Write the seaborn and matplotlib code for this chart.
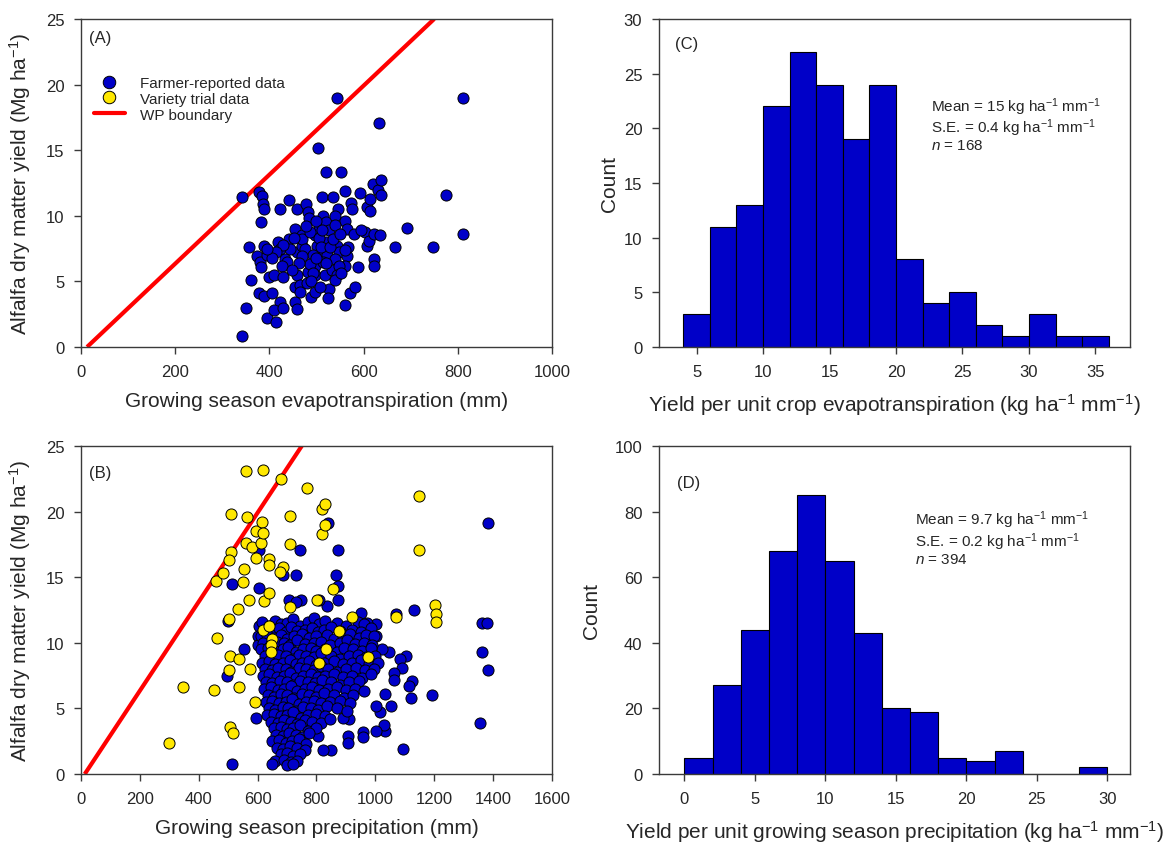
import numpy as np
import pandas as pd
import matplotlib
matplotlib.use("Agg")
import matplotlib.pyplot as plt
from matplotlib.lines import Line2D
import seaborn as sns

# ---------------- data ----------------
# Panel A: farmer-reported data, ET (mm) vs yield (Mg/ha)
A_et = [341, 341, 351, 362, 357, 379, 385, 383, 386, 389, 373, 380, 383, 389, 395, 377, 389, 405,
        395, 415, 399, 410, 422, 442, 418, 422, 434, 438, 426, 430, 442, 422, 410, 430, 454, 458,
        458, 478, 481, 485, 454, 458, 469, 469, 458, 454, 466, 466, 481, 479, 488, 497, 501, 505,
        496, 497, 497, 503, 520, 513, 511, 520, 527, 520, 516, 523, 513, 518, 527, 525, 532, 536,
        553, 544, 546, 540, 560, 560, 564, 544, 548, 540, 564, 560, 548, 544, 540, 567, 574, 575,
        572, 582, 561, 579, 588, 593, 603, 595, 607, 613, 614, 607, 611, 621, 631, 638, 638, 623,
        634, 623, 623, 632, 667, 692, 748, 774, 811, 811,
        470, 476, 487, 492, 505, 510, 486, 493, 470, 462, 528, 535, 540, 550, 478, 500, 488, 507,
        448, 444, 452, 430, 415, 405, 395, 560, 553, 520, 498, 512]
A_yield = [0.8, 11.4, 3.0, 5.1, 7.6, 11.8, 11.5, 9.5, 10.9, 10.5, 6.9, 6.5, 6.1, 7.7, 7.0, 4.1, 3.9, 4.1,
           2.2, 1.9, 5.3, 5.5, 10.5, 11.2, 8.0, 7.5, 6.7, 6.5, 6.2, 5.3, 8.2, 3.4, 2.8, 3.0, 3.4, 2.9,
           10.5, 10.9, 10.3, 9.8, 9.0, 7.2, 8.5, 7.7, 5.5, 4.6, 4.7, 4.2, 5.7, 4.9, 3.8, 8.5, 7.7, 9.0,
           6.2, 5.5, 4.2, 15.2, 13.3, 10.0, 11.4, 9.5, 8.9, 8.0, 7.2, 7.0, 6.5, 5.5, 4.4, 3.7, 5.9, 11.4,
           13.3, 19.0, 10.5, 10.0, 11.9, 9.6, 9.0, 7.7, 7.2, 6.7, 6.9, 6.2, 6.2, 5.5, 5.1, 7.6, 11.0, 10.5,
           4.1, 4.6, 3.2, 8.6, 6.1, 11.7, 8.8, 8.9, 10.7, 10.4, 11.3, 7.7, 8.1, 12.4, 12.0, 12.7, 11.6, 8.6,
           8.5, 6.7, 6.2, 17.1, 7.6, 9.1, 7.6, 11.6, 19.0, 8.6,
           8.2, 7.5, 8.8, 7.0, 8.3, 7.6, 6.3, 5.6, 6.9, 6.4, 7.6, 8.2, 9.3, 8.6, 9.2, 9.6, 5.0, 4.6,
           5.9, 7.5, 8.3, 7.8, 7.2, 6.8, 7.5, 7.4, 5.6, 6.4, 6.8, 8.9]

# Panel B: variety trial data, precipitation (mm) vs yield (Mg/ha)
B_trial_precip = [298, 345, 453, 461, 459, 484, 509, 511, 502, 502, 505, 503, 506, 515, 535, 537, 537,
                  553, 550, 562, 563, 562, 581, 572, 575, 591, 596, 593, 613, 616, 619, 619, 621, 619,
                  638, 640, 638, 639, 648, 646, 644, 678, 685, 676, 709, 711, 711, 767, 801, 810, 818,
                  830, 820, 828, 833, 855, 877, 920, 974, 1070, 1147, 1147, 1204, 1206, 1206]
B_trial_yield = [2.4, 6.6, 6.4, 10.4, 14.7, 15.3, 16.9, 19.8, 16.3, 11.8, 9.0, 7.9, 3.6, 3.1, 12.6, 8.8, 6.6,
                 15.6, 14.6, 23.1, 19.6, 17.6, 17.3, 13.3, 8.0, 5.5, 16.5, 18.5, 17.6, 19.2, 18.4, 23.2, 13.2, 11.0,
                 13.8, 11.3, 16.4, 15.9, 10.3, 9.8, 9.3, 22.5, 15.8, 15.4, 19.7, 17.5, 12.7, 21.8, 13.3, 8.5, 20.2,
                 20.6, 18.3, 19.0, 9.5, 14.1, 10.9, 12.0, 8.9, 12.0, 21.2, 17.1, 12.9, 12.2, 11.6]

# Panel B: farmer-reported data, precipitation (mm) vs yield (Mg/ha)
B_farm_precip = [
    513, 512, 501, 553, 496, 594, 604, 606, 604, 603, 601, 688, 732, 745, 747, 707, 732, 839, 873, 868,
    873, 873, 836, 808, 1132, 1071, 1384, 1362, 1380, 1362, 1384, 1357, 1194, 1093, 1120, 1125, 1116,
    1053, 1034, 1028, 1003, 1015, 1003, 959, 957, 906, 906, 849, 823, 804, 909, 889, 1103, 1084, 1090,
    1065, 1065, 1034, 1046, 1021, 1003, 1003, 952, 971, 944,
    615, 640, 660, 680, 700, 720, 745, 770, 790, 810, 830, 870, 900, 940, 960,
    625, 650, 672, 695, 715, 735, 760, 785, 805, 825, 850, 880, 920, 950, 985,
    610, 632, 655, 680, 700, 725, 750, 775, 800, 835, 860, 890, 915, 945, 970, 995,
    620, 645, 665, 690, 710, 735, 760, 790, 815, 845, 880, 905, 930, 960, 990,
    612, 635, 660, 685, 705, 730, 755, 780, 800, 830, 870, 895, 925, 955, 985,
    625, 650, 670, 695, 720, 740, 765, 790, 815, 850, 880, 910, 940, 970, 1000,
    615, 640, 660, 685, 710, 730, 750, 775, 800, 825, 860, 890, 920, 950, 980, 1010,
    625, 648, 670, 695, 715, 740, 765, 790, 815, 840, 870, 900, 935, 965, 995,
    620, 640, 665, 690, 710, 730, 755, 780, 805, 830, 860, 890, 920, 955, 985,
    630, 650, 675, 700, 720, 745, 770, 795, 820, 850, 880, 910, 945,
    622, 645, 668, 690, 712, 735, 760, 785, 810, 840, 870, 900, 930, 960,
    635, 655, 680, 700, 725, 750, 775, 800, 825, 860, 895, 925,
    628, 650, 672, 695, 718, 740, 765, 790, 815, 845, 880, 915,
    640, 660, 685, 705, 730, 755, 780, 805, 835, 870, 905,
    632, 655, 678, 700, 722, 748, 772, 800, 830,
    645, 668, 690, 712, 735, 760, 785, 815, 845,
    655, 680, 700, 722, 745, 770, 800,
    662, 685, 708, 730, 752, 775,
    650, 672, 695, 718, 740, 765,
    665, 688, 710, 735, 760,
    680, 700, 722, 745,
    660, 690, 712, 735,
    650, 700, 720]
B_farm_yield = [
    0.8, 14.5, 11.7, 9.5, 7.5, 4.3, 14.2, 17.1, 11.3, 10.5, 9.8, 15.2, 15.2, 17.1, 13.3, 13.3, 13.1, 19.1, 17.1, 15.2,
    14.3, 13.3, 12.8, 13.3, 12.5, 12.2, 19.1, 11.5, 11.5, 9.3, 7.9, 3.9, 6.0, 1.9, 5.8, 7.1, 6.7,
    5.2, 3.3, 3.7, 3.3, 4.7, 5.2, 3.2, 2.8, 2.9, 2.4, 1.8, 1.8, 2.9, 4.2, 4.3, 9.0, 8.8, 8.1,
    7.7, 7.2, 6.1, 9.3, 9.5, 10.5, 11.4, 12.3, 11.5, 11.0,
    11.6, 11.3, 11.7, 11.4, 11.5, 11.8, 11.3, 11.6, 11.9, 11.4, 11.7, 11.5, 11.3, 11.6, 11.4,
    11.0, 10.9, 11.1, 10.8, 11.2, 10.9, 11.0, 11.1, 10.8, 11.0, 11.2, 10.9, 11.0, 10.8, 11.1,
    10.5, 10.6, 10.4, 10.6, 10.3, 10.5, 10.7, 10.4, 10.5, 10.6, 10.3, 10.5, 10.7, 10.4, 10.6, 10.5,
    10.0, 9.9, 10.1, 10.0, 9.8, 10.2, 9.9, 10.0, 10.1, 9.8, 10.0, 10.2, 9.9, 10.0, 9.8,
    9.5, 9.6, 9.4, 9.5, 9.7, 9.3, 9.5, 9.6, 9.4, 9.5, 9.3, 9.6, 9.5, 9.4, 9.6,
    9.0, 8.9, 9.1, 9.0, 8.8, 9.1, 9.0, 8.9, 9.2, 9.0, 8.8, 9.0, 9.1, 8.9, 9.0,
    8.5, 8.6, 8.4, 8.5, 8.7, 8.4, 8.5, 8.6, 8.3, 8.5, 8.6, 8.4, 8.5, 8.7, 8.4, 8.5,
    8.0, 7.9, 8.1, 8.0, 7.8, 8.1, 8.0, 7.9, 8.2, 8.0, 7.8, 8.0, 8.1, 7.9, 8.0,
    7.5, 7.6, 7.4, 7.5, 7.7, 7.3, 7.5, 7.6, 7.4, 7.5, 7.6, 7.4, 7.5, 7.3, 7.6,
    7.0, 6.9, 7.1, 7.0, 6.8, 7.1, 7.0, 6.9, 7.2, 7.0, 6.8, 7.0, 7.1,
    6.5, 6.6, 6.4, 6.5, 6.7, 6.3, 6.5, 6.6, 6.4, 6.5, 6.6, 6.4, 6.5, 6.3,
    6.0, 5.9, 6.1, 6.0, 5.8, 6.1, 6.0, 5.9, 6.2, 6.0, 5.8, 6.0,
    5.5, 5.6, 5.4, 5.5, 5.7, 5.3, 5.5, 5.6, 5.4, 5.5, 5.6, 5.4,
    5.0, 4.9, 5.1, 5.0, 4.8, 5.1, 5.0, 4.9, 5.2, 5.0, 4.8,
    4.5, 4.6, 4.4, 4.5, 4.7, 4.3, 4.5, 4.6, 4.4,
    4.0, 3.9, 4.1, 4.0, 3.8, 4.1, 4.0, 3.9, 4.2,
    3.5, 3.6, 3.4, 3.5, 3.7, 3.3, 3.5,
    3.0, 2.9, 3.1, 3.0, 2.8, 3.1,
    2.5, 2.6, 2.4, 2.5, 2.7, 2.3,
    2.0, 1.9, 2.1, 2.0, 1.8,
    1.5, 1.6, 1.4, 1.5,
    1.0, 1.1, 0.9, 1.0,
    0.8, 0.7, 0.8]

# WP boundary line (mm, Mg/ha)
wp_x = [13, 750]
wp_y = [0, 25]

# Panel C histogram: WP based on ET (kg/ha/mm)
C_edges = [4, 6, 8, 10, 12, 14, 16, 18, 20, 22, 24, 26, 28, 30, 32, 34, 36]
C_counts = [3, 11, 13, 22, 27, 24, 19, 24, 8, 4, 5, 2, 1, 3, 1, 1]

# Panel D histogram: WP based on precipitation (kg/ha/mm)
D_edges = [0, 2, 4, 6, 8, 10, 12, 14, 16, 18, 20, 22, 24, 26, 28, 30]
D_counts = [5, 27, 44, 68, 85, 65, 43, 20, 19, 5, 4, 7, 0, 0, 2]

C_stats = ["Mean = 15 kg ha$^{-1}$ mm$^{-1}$", "S.E. = 0.4 kg ha$^{-1}$ mm$^{-1}$", "$\\mathit{n}$ = 168"]
D_stats = ["Mean = 9.7 kg ha$^{-1}$ mm$^{-1}$", "S.E. = 0.2 kg ha$^{-1}$ mm$^{-1}$", "$\\mathit{n}$ = 394"]

# ---------------- style ----------------
BLUE = "#0000C8"
YELLOW = "#FFE800"
RED = "#FF0000"
SPINE = "#3a3a3a"

sns.set_style("ticks")
plt.rcParams["font.family"] = ["Liberation Sans", "DejaVu Sans"]
plt.rcParams["mathtext.fontset"] = "custom"
plt.rcParams["mathtext.rm"] = "Liberation Sans"
plt.rcParams["mathtext.it"] = "Liberation Sans:italic"
plt.rcParams["mathtext.default"] = "regular"
plt.rcParams["axes.edgecolor"] = SPINE
plt.rcParams["axes.linewidth"] = 1.0

TICK_FS = 12
LABEL_FS = 15
TEXT_FS = 11

fig = plt.figure(figsize=(11.63, 8.45), dpi=100)
W = 0.405
H = 0.3882
axA = fig.add_axes([0.0696, 0.5882, W, H])
axB = fig.add_axes([0.0696, 0.0828, W, H])
axC = fig.add_axes([0.5666, 0.5882, W, H])
axD = fig.add_axes([0.5666, 0.0828, W, H])

for ax in (axA, axB, axC, axD):
    ax.tick_params(axis="both", direction="out", length=5, width=1, color=SPINE,
                   labelsize=TICK_FS, pad=7, top=False, right=False)
    for sp in ax.spines.values():
        sp.set_visible(True)
        sp.set_color(SPINE)

pt_kw = dict(s=64, edgecolor="black", linewidth=0.7, legend=False)

# ---- Panel A ----
axA.plot(wp_x, wp_y, color=RED, lw=3, zorder=2, solid_capstyle="butt")
sns.scatterplot(x=A_et, y=A_yield, color=BLUE, ax=axA, zorder=3, **pt_kw)
axA.set_xlim(0, 1000)
axA.set_ylim(0, 25)
axA.set_xticks([0, 200, 400, 600, 800, 1000])
axA.set_yticks([0, 5, 10, 15, 20, 25])
axA.set_xlabel("Growing season evapotranspiration (mm)", fontsize=LABEL_FS, labelpad=9)
axA.set_ylabel("Alfalfa dry matter yield (Mg ha$^{-1}$)", fontsize=LABEL_FS, labelpad=9)
axA.text(0.017, 0.944, "(A)", transform=axA.transAxes, fontsize=12, va="center", ha="left")
handles = [
    Line2D([0], [0], marker="o", ls="none", markerfacecolor=BLUE, markeredgecolor="black",
           markeredgewidth=0.7, markersize=9),
    Line2D([0], [0], marker="o", ls="none", markerfacecolor=YELLOW, markeredgecolor="black",
           markeredgewidth=0.7, markersize=9),
    Line2D([0], [0], color=RED, lw=3),
]
axA.legend(handles, ["Farmer-reported data", "Variety trial data", "WP boundary"],
           loc="upper left", bbox_to_anchor=(0.015, 0.845), frameon=False, fontsize=11,
           handlelength=2.0, handletextpad=1.0, labelspacing=0.12, borderaxespad=0)

# ---- Panel B ----
axB.plot(wp_x, wp_y, color=RED, lw=3, zorder=2, solid_capstyle="butt")
sns.scatterplot(x=B_farm_precip, y=B_farm_yield, color=BLUE, ax=axB, zorder=3, **pt_kw)
sns.scatterplot(x=B_trial_precip, y=B_trial_yield, color=YELLOW, ax=axB, zorder=4, **pt_kw)
axB.set_xlim(0, 1600)
axB.set_ylim(0, 25)
axB.set_xticks(list(range(0, 1601, 200)))
axB.set_yticks([0, 5, 10, 15, 20, 25])
axB.set_xlabel("Growing season precipitation (mm)", fontsize=LABEL_FS, labelpad=9)
axB.set_ylabel("Alfalfa dry matter yield (Mg ha$^{-1}$)", fontsize=LABEL_FS, labelpad=9)
axB.text(0.017, 0.919, "(B)", transform=axB.transAxes, fontsize=12, va="center", ha="left")

# ---- Panel C ----
C_centers = [(a + b) / 2 for a, b in zip(C_edges[:-1], C_edges[1:])]
sns.histplot(x=C_centers, weights=C_counts, bins=C_edges, ax=axC, color=BLUE,
             edgecolor="black", linewidth=0.8, alpha=1.0)
axC.set_xlim(2.17, 37.6)
axC.set_ylim(0, 30)
axC.set_xticks([5, 10, 15, 20, 25, 30, 35])
axC.set_yticks([0, 5, 10, 15, 20, 25, 30])
axC.set_xlabel("Yield per unit crop evapotranspiration (kg ha$^{-1}$ mm$^{-1}$)",
               fontsize=LABEL_FS, labelpad=9)
axC.set_ylabel("Count", fontsize=LABEL_FS, labelpad=3)
axC.text(0.035, 0.926, "(C)", transform=axC.transAxes, fontsize=12, va="center", ha="left")
axC.text(0.577, 0.768, "\n".join(C_stats), transform=axC.transAxes, fontsize=TEXT_FS,
         va="top", ha="left", linespacing=1.0)

# ---- Panel D ----
D_centers = [(a + b) / 2 for a, b in zip(D_edges[:-1], D_edges[1:])]
sns.histplot(x=D_centers, weights=D_counts, bins=D_edges, ax=axD, color=BLUE,
             edgecolor="black", linewidth=0.8, alpha=1.0)
axD.set_xlim(-1.8, 31.6)
axD.set_ylim(0, 100)
axD.set_xticks([0, 5, 10, 15, 20, 25, 30])
axD.set_yticks([0, 20, 40, 60, 80, 100])
axD.set_xlabel("Yield per unit growing season precipitation (kg ha$^{-1}$ mm$^{-1}$)",
               fontsize=LABEL_FS, labelpad=9)
axD.set_ylabel("Count", fontsize=LABEL_FS, labelpad=10)
axD.text(0.038, 0.888, "(D)", transform=axD.transAxes, fontsize=12, va="center", ha="left")
axD.text(0.544, 0.809, "\n".join(D_stats), transform=axD.transAxes, fontsize=TEXT_FS,
         va="top", ha="left", linespacing=1.0)

fig.savefig("out.png", dpi=100)
